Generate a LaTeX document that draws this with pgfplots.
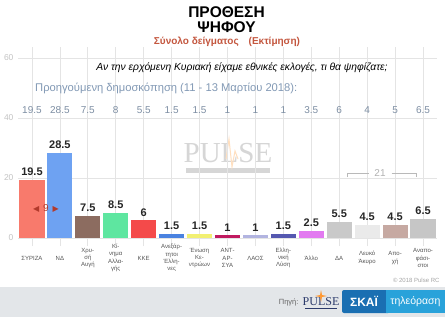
\documentclass[border=0pt]{standalone}
\usepackage{fontspec}
\setmainfont{Liberation Sans}
\newfontfamily\dejavu{DejaVu Sans}
\newfontfamily\serifw{Liberation Serif}
\usepackage{pgfplots}
\pgfplotsset{compat=1.18}
\definecolor{footgray}{HTML}{E3E6E9}
\definecolor{subred}{HTML}{C4573F}
\definecolor{prevblue}{HTML}{8299B5}
\definecolor{prevval}{HTML}{7D8EA3}
\definecolor{gridc}{HTML}{E4E4E4}
\definecolor{ylab}{HTML}{C4C4C4}
\definecolor{xlab}{HTML}{555555}
\definecolor{c0}{HTML}{F87A6C}
\definecolor{c1}{HTML}{6EA2F2}
\definecolor{c2}{HTML}{8C6C60}
\definecolor{c3}{HTML}{5EE6A0}
\definecolor{c4}{HTML}{F44A4A}
\definecolor{c5}{HTML}{4A82E0}
\definecolor{c6}{HTML}{F2F072}
\definecolor{c7}{HTML}{C01A60}
\definecolor{c8}{HTML}{B2B4E0}
\definecolor{c9}{HTML}{5558B0}
\definecolor{c10}{HTML}{E27AF0}
\definecolor{c11}{HTML}{C9C9C9}
\definecolor{c12}{HTML}{EAEAEA}
\definecolor{c13}{HTML}{C6A9A2}
\definecolor{c14}{HTML}{C6C6C6}
\definecolor{arrowred}{HTML}{B23A2C}
\definecolor{wm}{HTML}{D6D6D6}
\definecolor{skaiblue}{HTML}{1A6FB2}
\definecolor{skailight}{HTML}{29A2DA}
\definecolor{pulseblue}{HTML}{2B3A6B}
\begin{document}
\begin{tikzpicture}[x=1pt,y=1pt]
\path[use as bounding box] (0,0) rectangle (445,317);
\fill[white] (0,0) rectangle (445,317);
\fill[footgray] (0,0) rectangle (445,30);
% titles
\node[font=\bfseries\fontsize{15.5}{17}\selectfont] at (226.5,305) {ΠΡΟΘΕΣΗ};
\node[font=\bfseries\fontsize{15.5}{17}\selectfont] at (226.5,290) {ΨΗΦΟΥ};
\node[font=\bfseries\fontsize{10}{11}\selectfont, text=subred] at (227,275) {Σύνολο δείγματος\quad(Εκτίμηση)};
% watermark
\node[font=\serifw\fontsize{29}{29}\selectfont, text=wm, inner sep=0pt] at (228,164) {PULSE};
\fill[wm] (186,144) rectangle (270,149.5);
\draw[orange!25, line width=1pt] (226,158) -- (229,178) -- (232,150) -- (235,166) -- (238,158);
\begin{axis}[
  at={(18pt,79pt)}, anchor=south west,
  scale only axis, width=419pt, height=191pt,
  xmin=-0.5, xmax=14.5, ymin=0, ymax=63.67,
  enlargelimits=false,
  ybar, bar width=0.9, bar shift=0pt,
  axis line style={draw=none},
  xmajorgrids, ymajorgrids,
  grid style={gridc, line width=0.7pt},
  xtick={0,...,14}, ytick={0,20,40,60},
  xtick pos=bottom, ytick style={draw=none},
  xtick style={draw=gridc, line width=0.7pt},
  tick align=outside, major tick length=8pt,
  /pgf/number format/assume math mode=true,
  yticklabel style={font=\fontsize{8.5}{10}\selectfont, text=ylab, xshift=7pt},
  xticklabels={ΣΥΡΙΖΑ,ΝΔ,{Χρυ-\\σή\\Αυγή},{Κί-\\νημα\\Αλλα-\\γής},ΚΚΕ,{Ανεξάρ-\\τητοι\\Έλλη-\\νες},{Ένωση\\Κε-\\ντρώων},{ΑΝΤ-\\ΑΡ-\\ΣΥΑ},ΛΑΟΣ,{Ελλη-\\νική\\Λύση},Άλλο,ΔΑ,{Λευκό\\Άκυρο},{Απο-\\χή},{Αναπο-\\φάσι-\\στοι}},
  xticklabel style={font=\fontsize{6}{7.3}\selectfont, text=xlab, align=center, anchor=center, yshift=-12pt},
  nodes near coords,
  every node near coord/.append style={font=\bfseries\fontsize{11}{12}\selectfont, text=black!85},
  clip=false,
]
\addplot[fill=c0, draw=none] coordinates {(0,19.5)};
\addplot[fill=c1, draw=none] coordinates {(1,28.5)};
\addplot[fill=c2, draw=none] coordinates {(2,7.5)};
\addplot[fill=c3, draw=none] coordinates {(3,8.5)};
\addplot[fill=c4, draw=none] coordinates {(4,6)};
\addplot[fill=c5, draw=none] coordinates {(5,1.5)};
\addplot[fill=c6, draw=none] coordinates {(6,1.5)};
\addplot[fill=c7, draw=none] coordinates {(7,1)};
\addplot[fill=c8, draw=none] coordinates {(8,1)};
\addplot[fill=c9, draw=none] coordinates {(9,1.5)};
\addplot[fill=c10, draw=none] coordinates {(10,2.5)};
\addplot[fill=c11, draw=none] coordinates {(11,5.5)};
\addplot[fill=c12, draw=none] coordinates {(12,4.5)};
\addplot[fill=c13, draw=none] coordinates {(13,4.5)};
\addplot[fill=c14, draw=none] coordinates {(14,6.5)};
% previous poll row
\begin{scope}[every node/.style={font=\fontsize{10}{12}\selectfont, text=prevval}]
\node at (axis cs:0,42.67) {19.5};
\node at (axis cs:1,42.67) {28.5};
\node at (axis cs:2,42.67) {7.5};
\node at (axis cs:3,42.67) {8};
\node at (axis cs:4,42.67) {5.5};
\node at (axis cs:5,42.67) {1.5};
\node at (axis cs:6,42.67) {1.5};
\node at (axis cs:7,42.67) {1};
\node at (axis cs:8,42.67) {1};
\node at (axis cs:9,42.67) {1};
\node at (axis cs:10,42.67) {3.5};
\node at (axis cs:11,42.67) {6};
\node at (axis cs:12,42.67) {4};
\node at (axis cs:13,42.67) {5};
\node at (axis cs:14,42.67) {6.5};
\end{scope}
% gap arrow
\node[text=arrowred, font=\fontsize{10}{12}\selectfont] at (axis cs:0.5,9.7) {{\dejavu\fontsize{8}{10}\selectfont ◀}\hspace{4pt}9\hspace{4pt}{\dejavu\fontsize{8}{10}\selectfont ▶}};
% bracket 21
\draw[gray!55, line width=0.8pt] (axis cs:11.28,20.3) -- (axis cs:11.28,21.7) -- (axis cs:12.05,21.7);
\draw[gray!55, line width=0.8pt] (axis cs:12.88,21.7) -- (axis cs:13.78,21.7) -- (axis cs:13.78,20.3);
\node[font=\fontsize{10}{12}\selectfont, text=gray!60] at (axis cs:12.46,21.7) {21};
\end{axis}
\node[font=\itshape\fontsize{10.3}{12}\selectfont] at (242,249) {Αν την ερχόμενη Κυριακή είχαμε εθνικές εκλογές, τι θα ψηφίζατε;};
\node[anchor=west, inner sep=0pt, font=\fontsize{11.2}{13}\selectfont, text=prevblue] at (35,229) {Προηγούμενη δημοσκόπηση (11 - 13 Μαρτίου 2018):};
\node[anchor=east, font=\fontsize{6}{7}\selectfont, text=gray!70] at (443,37) {© 2018 Pulse RC};
% footer
\node[anchor=east, font=\fontsize{7.5}{9}\selectfont, text=gray!80!black] at (302,15) {Πηγή:};
\node[font=\serifw\fontsize{12}{12}\selectfont, text=pulseblue, inner sep=0pt] at (321,15) {PULSE};
\draw[pulseblue, line width=0.5pt] (305,9) -- (337,9);
\fill[orange!80] (320,22) -- (321,27) -- (322,22) -- (327,21) -- (322,20) -- (321,15) -- (320,20) -- (315,21) -- cycle;
\fill[skaiblue, rounded corners=2pt] (342,4) rectangle (390,27);
\fill[skaiblue] (380,4) rectangle (388,27);
\fill[skailight] (386,4) rectangle (445,27);
\node[font=\bfseries\fontsize{12}{13}\selectfont, text=white] at (364,15.5) {ΣΚΑΪ};
\node[font=\fontsize{10.5}{12}\selectfont, text=white] at (415.5,15.5) {τηλεόραση};
\end{tikzpicture}
\end{document}
